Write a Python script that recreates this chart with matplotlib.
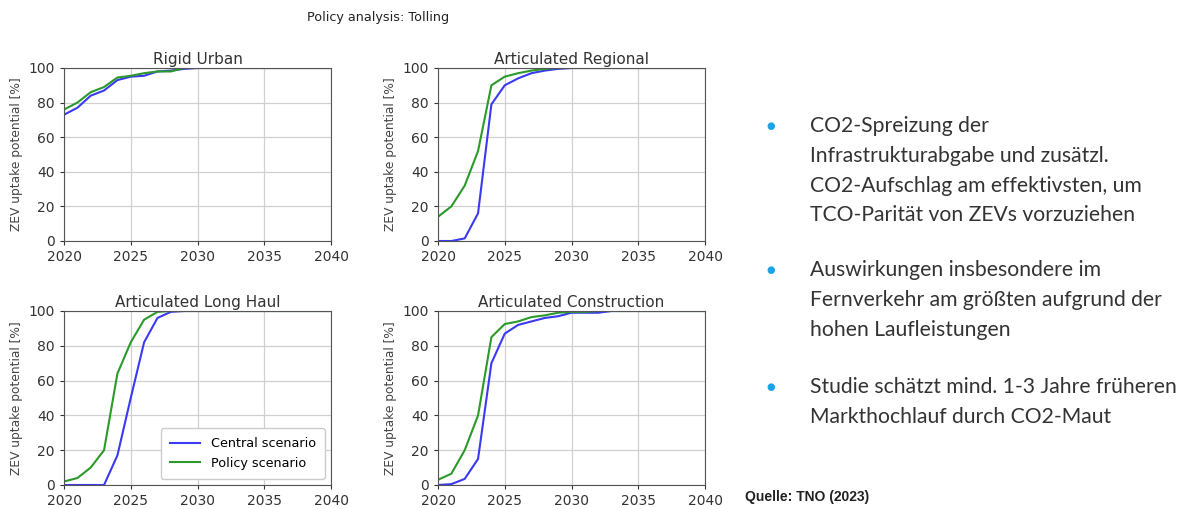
import numpy as np
import matplotlib
matplotlib.use("Agg")
import matplotlib.pyplot as plt

# ---------------------------------------------------------------- data
years = list(range(2020, 2041))

panels = ["Rigid Urban", "Articulated Regional",
          "Articulated Long Haul", "Articulated Construction"]

central_rigid_urban = [73, 77, 84, 87, 93, 95, 95.5, 98, 98.5, 99.5, 100,
                       100, 100, 100, 100, 100, 100, 100, 100, 100, 100]
policy_rigid_urban = [76, 80, 86, 89, 94.5, 95.5, 97, 98, 98, 100, 100,
                      100, 100, 100, 100, 100, 100, 100, 100, 100, 100]

central_regional = [0, 0, 1.5, 16, 79, 90, 94, 97, 98.5, 99.5, 100,
                    100, 100, 100, 100, 100, 100, 100, 100, 100, 100]
policy_regional = [14, 20, 32, 52, 90, 95, 97, 98.5, 99.5, 100, 100,
                   100, 100, 100, 100, 100, 100, 100, 100, 100, 100]

central_long_haul = [0, 0, 0, 0, 17, 50, 82, 96, 99.5, 100, 100,
                     100, 100, 100, 100, 100, 100, 100, 100, 100, 100]
policy_long_haul = [2, 4, 10, 20, 64, 82, 95, 99.5, 100, 100, 100,
                    100, 100, 100, 100, 100, 100, 100, 100, 100, 100]

central_construction = [0, 0.5, 3.5, 15, 70, 87, 92, 94, 96, 97, 99,
                        99, 99, 100, 100, 100, 100, 100, 100, 100, 100]
policy_construction = [3, 6.5, 20, 40, 85, 92.5, 94, 96.5, 97.5, 99, 99.5,
                       99.5, 100, 100, 100, 100, 100, 100, 100, 100, 100]

central = [central_rigid_urban, central_regional, central_long_haul, central_construction]
policy = [policy_rigid_urban, policy_regional, policy_long_haul, policy_construction]

bullets = [
    "CO2-Spreizung der\nInfrastrukturabgabe und zusätzl.\nCO2-Aufschlag am effektivsten, um\nTCO-Parität von ZEVs vorzuziehen",
    "Auswirkungen insbesondere im\nFernverkehr am größten aufgrund der\nhohen Laufleistungen",
    "Studie schätzt mind. 1-3 Jahre früheren\nMarkthochlauf durch CO2-Maut",
]
source = "Quelle: TNO (2023)"

BLUE = "#3a3af2"
GREEN = "#2b9a2b"
W, H = 1184, 509

plt.rcParams["font.family"] = "DejaVu Sans"
fig = plt.figure(figsize=(W / 100, H / 100), dpi=100)

# axes boxes in pixels: left, top, right, bottom
boxes = [(64, 68, 331, 241), (438, 68, 705, 241),
         (64, 311, 331, 485), (438, 311, 705, 485)]

for i, (l, t, r, b) in enumerate(boxes):
    ax = fig.add_axes([l / W, 1 - b / H, (r - l) / W, (b - t) / H])
    ax.plot(years, central[i], color=BLUE, lw=1.5, label="Central scenario")
    ax.plot(years, policy[i], color=GREEN, lw=1.5, label="Policy scenario")
    ax.set_xlim(2020, 2040)
    ax.set_ylim(0, 100)
    ax.set_xticks([2020, 2025, 2030, 2035, 2040])
    ax.set_yticks([0, 20, 40, 60, 80, 100])
    ax.grid(True, color="#d0d0d0", lw=0.9)
    ax.set_title(panels[i], fontsize=11, color="#333333", pad=3)
    ax.set_ylabel("ZEV uptake potential [%]", fontsize=8.8, color="#444444")
    ax.tick_params(labelsize=10, colors="#333333", length=3)
    for s in ax.spines.values():
        s.set_color("#555555")
    if i == 2:
        ax.legend(loc="lower right", fontsize=9.2, framealpha=1,
                  edgecolor="#cccccc", borderpad=0.7, handlelength=2.4)

fig.text(378 / W, 1 - 18 / H, "Policy analysis: Tolling", ha="center",
         va="center", fontsize=9.2, color="#222222")

# bullet list
tops = [116, 260, 377]
for y, txt in zip(tops, bullets):
    fig.text(771 / W, 1 - (y + 10) / H, "\u25CF", fontsize=7, color="#1aa3e8",
             ha="center", va="center")
    fig.text(810 / W, 1 - y / H, txt, fontsize=15.2, family="Lato",
             color="#333333", va="top", ha="left", linespacing=1.61)

fig.text(745 / W, 1 - 497 / H, source, fontsize=10, fontweight="bold",
         family="Liberation Sans", color="#222222", va="center", ha="left")

fig.savefig("out.png", dpi=100)
